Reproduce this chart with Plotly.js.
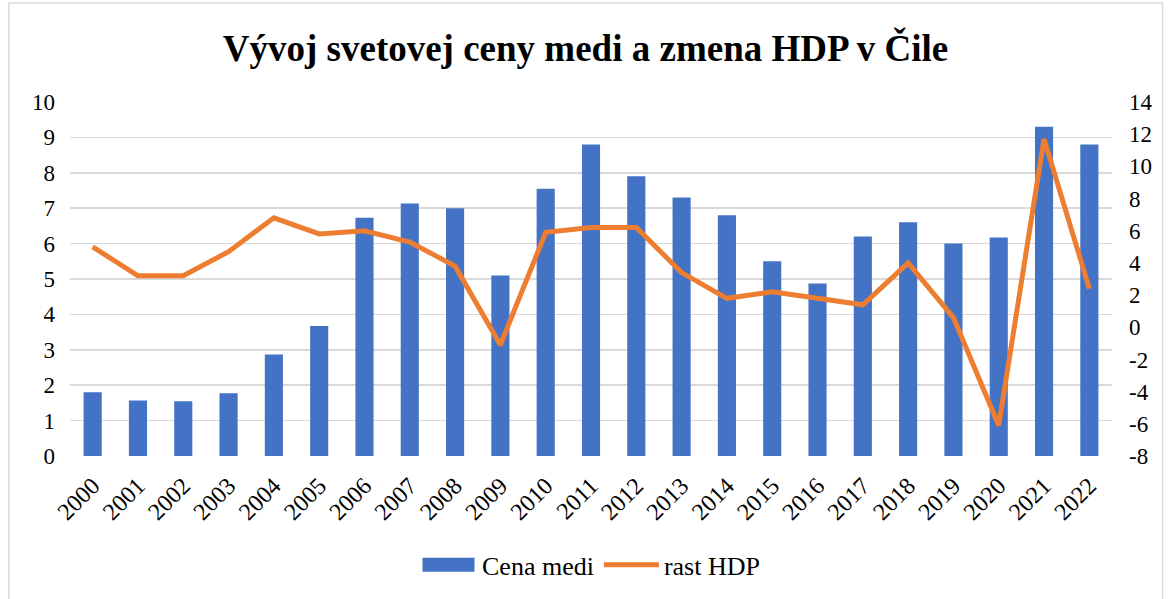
<!DOCTYPE html>
<html>
<head>
<meta charset="utf-8">
<script src="https://cdn.plot.ly/plotly-3.0.1.min.js"></script>
<style>html,body{margin:0;padding:0;background:#fff;}#chart{width:1171px;height:599px;}</style>
</head>
<body>
<div id="chart"></div>
<script>
const years = ["2000","2001","2002","2003","2004","2005","2006","2007","2008","2009","2010","2011","2012","2013","2014","2015","2016","2017","2018","2019","2020","2021","2022"];
const copperPrice = [1.8,1.57,1.55,1.77,2.87,3.67,6.73,7.13,7.0,5.1,7.55,8.8,7.9,7.3,6.8,5.5,4.87,6.2,6.6,6.0,6.17,9.3,8.8];
const gdpGrowth = [5.0,3.2,3.2,4.7,6.8,5.8,6.0,5.3,3.8,-1.1,5.9,6.2,6.2,3.4,1.8,2.2,1.8,1.4,4.0,0.6,-6.1,11.7,2.4];
const leftTicks = [0,1,2,3,4,5,6,7,8,9,10];
const rightTicks = [-8,-6,-4,-2,0,2,4,6,8,10,12,14];

const serif = "Liberation Serif";

const traces = [
  {
    type: 'bar', name: 'Cena medi', x: years, y: copperPrice,
    marker: {color: '#4472C4'}, yaxis: 'y'
  },
  {
    type: 'scatter', mode: 'lines', name: 'rast HDP', x: years, y: gdpGrowth,
    line: {color: '#ED7D31', width: 5}, yaxis: 'y2'
  }
];

const layout = {
  width: 1171, height: 599,
  margin: {l: 70, r: 59, t: 102, b: 142},
  paper_bgcolor: '#ffffff', plot_bgcolor: '#ffffff',
  font: {family: serif, color: '#000000', size: 22},
  title: {text: '<b>Vývoj svetovej ceny medi a zmena HDP v Čile</b>', x: 0.5, xanchor: 'center', y: 0.92, yanchor: 'middle', font: {family: serif, size: 37, color: '#000'}},
  bargap: 0.6,
  showlegend: true,
  legend: {orientation: 'h', x: 0.5, xanchor: 'center', y: -0.304, yanchor: 'middle', font: {family: serif, size: 26, color: '#000'}, itemwidth: 55},
  xaxis: {
    type: 'category', tickangle: -45, showgrid: false, zeroline: false,
    showline: false, ticks: '', ticklabelstandoff: 10, tickfont: {family: serif, size: 24, color: '#000'}
  },
  yaxis: {
    range: [0, 10], tickvals: leftTicks, ticktext: leftTicks.map(String),
    showgrid: true, gridcolor: '#d9d9d9', gridwidth: 1.5, zeroline: false,
    showline: false, ticks: '', ticklabelstandoff: 14, tickfont: {family: serif, size: 23, color: '#000'}
  },
  yaxis2: {
    range: [-8, 14], tickvals: rightTicks, ticktext: rightTicks.map(String),
    overlaying: 'y', side: 'right', showgrid: false, zeroline: false,
    showline: false, ticks: '', ticklabelstandoff: 16, tickfont: {family: serif, size: 23, color: '#000'}
  },
  shapes: [
    {type: 'rect', xref: 'paper', yref: 'paper', x0: -0.0586, x1: 1.0485, y0: -0.44, y1: 1.28,
     line: {color: '#d9d9d9', width: 1.5}, fillcolor: 'rgba(0,0,0,0)', layer: 'below'}
  ]
};

Plotly.newPlot('chart', traces, layout, {displayModeBar: false, staticPlot: true}).then(function (gd) {
  // widen the bar legend swatch to a broad rectangle like the reference
  gd.querySelectorAll('.legendpoints path.legendbar, .legendpoints path.legendundefined').forEach(function (p) {
    p.setAttribute('d', 'M25,7H-27V-7H25Z');
  });
});
</script>
</body>
</html>
